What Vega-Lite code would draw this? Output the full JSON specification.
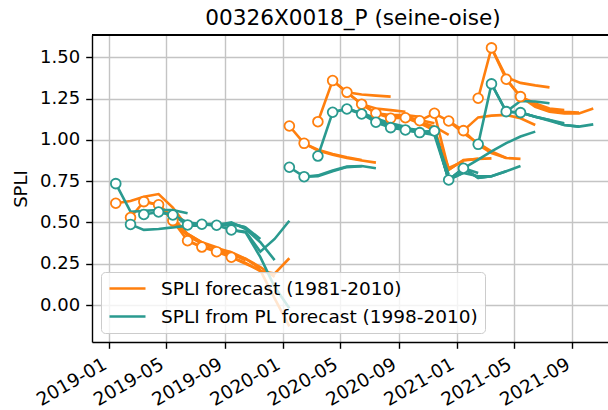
{
"$schema":"https://vega.github.io/schema/vega-lite/v6.json",
"autosize":{"type":"none"},
"padding":{"left":92,"top":35,"right":0,"bottom":68},
"width":516,"height":307,
"title":{"text":"00326X0018_P (seine-oise)","fontSize":21.6,"font":"DejaVu Sans","fontWeight":"normal","color":"#000","offset":5,"dx":3},
"data":{"values":[
{"s":"A","r":"2019-01-15","d":"2019-01-15","v":0.616},{"s":"A","r":"2019-01-15","d":"2019-02-15","v":0.63},{"s":"A","r":"2019-01-15","d":"2019-03-15","v":0.655},{"s":"A","r":"2019-01-15","d":"2019-04-15","v":0.672},{"s":"A","r":"2019-01-15","d":"2019-05-15","v":0.59},{"s":"A","r":"2019-01-15","d":"2019-06-15","v":0.47},
{"s":"A","r":"2019-02-15","d":"2019-02-15","v":0.53},{"s":"A","r":"2019-02-15","d":"2019-03-15","v":0.626},{"s":"A","r":"2019-02-15","d":"2019-04-15","v":0.607},{"s":"A","r":"2019-02-15","d":"2019-05-15","v":0.53},{"s":"A","r":"2019-02-15","d":"2019-06-15","v":0.43},{"s":"A","r":"2019-02-15","d":"2019-07-15","v":0.38},
{"s":"A","r":"2019-03-15","d":"2019-03-15","v":0.626},{"s":"A","r":"2019-03-15","d":"2019-04-15","v":0.607},{"s":"A","r":"2019-03-15","d":"2019-05-15","v":0.511},{"s":"A","r":"2019-03-15","d":"2019-06-15","v":0.43},{"s":"A","r":"2019-03-15","d":"2019-07-15","v":0.38},{"s":"A","r":"2019-03-15","d":"2019-08-15","v":0.35},
{"s":"A","r":"2019-04-15","d":"2019-04-15","v":0.607},{"s":"A","r":"2019-04-15","d":"2019-05-15","v":0.511},{"s":"A","r":"2019-04-15","d":"2019-06-15","v":0.42},{"s":"A","r":"2019-04-15","d":"2019-07-15","v":0.37},{"s":"A","r":"2019-04-15","d":"2019-08-15","v":0.345},{"s":"A","r":"2019-04-15","d":"2019-09-15","v":0.32},
{"s":"A","r":"2019-05-15","d":"2019-05-15","v":0.511},{"s":"A","r":"2019-05-15","d":"2019-06-15","v":0.389},{"s":"A","r":"2019-05-15","d":"2019-07-15","v":0.351},{"s":"A","r":"2019-05-15","d":"2019-08-15","v":0.33},{"s":"A","r":"2019-05-15","d":"2019-09-15","v":0.31},{"s":"A","r":"2019-05-15","d":"2019-10-15","v":0.27},
{"s":"A","r":"2019-06-15","d":"2019-06-15","v":0.389},{"s":"A","r":"2019-06-15","d":"2019-07-15","v":0.351},{"s":"A","r":"2019-06-15","d":"2019-08-15","v":0.335},{"s":"A","r":"2019-06-15","d":"2019-09-15","v":0.32},{"s":"A","r":"2019-06-15","d":"2019-10-15","v":0.28},{"s":"A","r":"2019-06-15","d":"2019-11-15","v":0.22},
{"s":"A","r":"2019-07-15","d":"2019-07-15","v":0.351},{"s":"A","r":"2019-07-15","d":"2019-08-15","v":0.323},{"s":"A","r":"2019-07-15","d":"2019-09-15","v":0.31},{"s":"A","r":"2019-07-15","d":"2019-10-15","v":0.28},{"s":"A","r":"2019-07-15","d":"2019-11-15","v":0.23},{"s":"A","r":"2019-07-15","d":"2019-12-15","v":0.17},
{"s":"A","r":"2019-08-15","d":"2019-08-15","v":0.323},{"s":"A","r":"2019-08-15","d":"2019-09-15","v":0.289},{"s":"A","r":"2019-08-15","d":"2019-10-15","v":0.25},{"s":"A","r":"2019-08-15","d":"2019-11-15","v":0.21},{"s":"A","r":"2019-08-15","d":"2019-12-15","v":0.04},{"s":"A","r":"2019-08-15","d":"2020-01-15","v":-0.13},
{"s":"A","r":"2019-09-15","d":"2019-09-15","v":0.289},{"s":"A","r":"2019-09-15","d":"2019-10-15","v":0.255},{"s":"A","r":"2019-09-15","d":"2019-11-15","v":0.205},{"s":"A","r":"2019-09-15","d":"2019-12-15","v":0.19},{"s":"A","r":"2019-09-15","d":"2020-01-15","v":0.283},
{"s":"A","r":"2020-01-15","d":"2020-01-15","v":1.084},{"s":"A","r":"2020-01-15","d":"2020-02-15","v":0.979},{"s":"A","r":"2020-01-15","d":"2020-03-15","v":0.94},{"s":"A","r":"2020-01-15","d":"2020-04-15","v":0.915},{"s":"A","r":"2020-01-15","d":"2020-05-15","v":0.895},{"s":"A","r":"2020-01-15","d":"2020-06-15","v":0.878},
{"s":"A","r":"2020-02-15","d":"2020-02-15","v":0.979},{"s":"A","r":"2020-02-15","d":"2020-03-15","v":0.935},{"s":"A","r":"2020-02-15","d":"2020-04-15","v":0.91},{"s":"A","r":"2020-02-15","d":"2020-05-15","v":0.89},{"s":"A","r":"2020-02-15","d":"2020-06-15","v":0.875},{"s":"A","r":"2020-02-15","d":"2020-07-15","v":0.862},
{"s":"A","r":"2020-03-15","d":"2020-03-15","v":1.11},{"s":"A","r":"2020-03-15","d":"2020-04-15","v":1.359},{"s":"A","r":"2020-03-15","d":"2020-05-15","v":1.288},{"s":"A","r":"2020-03-15","d":"2020-06-15","v":1.275},{"s":"A","r":"2020-03-15","d":"2020-07-15","v":1.268},{"s":"A","r":"2020-03-15","d":"2020-08-15","v":1.262},
{"s":"A","r":"2020-04-15","d":"2020-04-15","v":1.359},{"s":"A","r":"2020-04-15","d":"2020-05-15","v":1.288},{"s":"A","r":"2020-04-15","d":"2020-06-15","v":1.216},{"s":"A","r":"2020-04-15","d":"2020-07-15","v":1.19},{"s":"A","r":"2020-04-15","d":"2020-08-15","v":1.18},{"s":"A","r":"2020-04-15","d":"2020-09-15","v":1.17},
{"s":"A","r":"2020-05-15","d":"2020-05-15","v":1.288},{"s":"A","r":"2020-05-15","d":"2020-06-15","v":1.216},{"s":"A","r":"2020-05-15","d":"2020-07-15","v":1.161},{"s":"A","r":"2020-05-15","d":"2020-08-15","v":1.15},{"s":"A","r":"2020-05-15","d":"2020-09-15","v":1.15},{"s":"A","r":"2020-05-15","d":"2020-10-15","v":1.14},
{"s":"A","r":"2020-06-15","d":"2020-06-15","v":1.216},{"s":"A","r":"2020-06-15","d":"2020-07-15","v":1.161},{"s":"A","r":"2020-06-15","d":"2020-08-15","v":1.14},{"s":"A","r":"2020-06-15","d":"2020-09-15","v":1.14},{"s":"A","r":"2020-06-15","d":"2020-10-15","v":1.12},{"s":"A","r":"2020-06-15","d":"2020-11-15","v":1.1},
{"s":"A","r":"2020-07-15","d":"2020-07-15","v":1.161},{"s":"A","r":"2020-07-15","d":"2020-08-15","v":1.131},{"s":"A","r":"2020-07-15","d":"2020-09-15","v":1.14},{"s":"A","r":"2020-07-15","d":"2020-10-15","v":1.11},{"s":"A","r":"2020-07-15","d":"2020-11-15","v":1.08},{"s":"A","r":"2020-07-15","d":"2020-12-15","v":1.03},
{"s":"A","r":"2020-08-15","d":"2020-08-15","v":1.131},{"s":"A","r":"2020-08-15","d":"2020-09-15","v":1.134},{"s":"A","r":"2020-08-15","d":"2020-10-15","v":1.1},{"s":"A","r":"2020-08-15","d":"2020-11-15","v":1.06},{"s":"A","r":"2020-08-15","d":"2020-12-15","v":0.83},{"s":"A","r":"2020-08-15","d":"2021-01-15","v":0.87},
{"s":"A","r":"2020-09-15","d":"2020-09-15","v":1.134},{"s":"A","r":"2020-09-15","d":"2020-10-15","v":1.116},{"s":"A","r":"2020-09-15","d":"2020-11-15","v":1.05},{"s":"A","r":"2020-09-15","d":"2020-12-15","v":0.82},{"s":"A","r":"2020-09-15","d":"2021-01-15","v":0.875},{"s":"A","r":"2020-09-15","d":"2021-02-15","v":0.885},
{"s":"A","r":"2020-10-15","d":"2020-10-15","v":1.116},{"s":"A","r":"2020-10-15","d":"2020-11-15","v":1.161},{"s":"A","r":"2020-10-15","d":"2020-12-15","v":0.818},{"s":"A","r":"2020-10-15","d":"2021-01-15","v":0.878},{"s":"A","r":"2020-10-15","d":"2021-02-15","v":0.885},{"s":"A","r":"2020-10-15","d":"2021-03-15","v":0.888},
{"s":"A","r":"2020-11-15","d":"2020-11-15","v":1.161},{"s":"A","r":"2020-11-15","d":"2020-12-15","v":1.114},{"s":"A","r":"2020-11-15","d":"2021-01-15","v":1.04},{"s":"A","r":"2020-11-15","d":"2021-02-15","v":0.98},{"s":"A","r":"2020-11-15","d":"2021-03-15","v":0.93},{"s":"A","r":"2020-11-15","d":"2021-04-15","v":0.89},
{"s":"A","r":"2020-12-15","d":"2020-12-15","v":1.114},{"s":"A","r":"2020-12-15","d":"2021-01-15","v":1.056},{"s":"A","r":"2020-12-15","d":"2021-02-15","v":0.97},{"s":"A","r":"2020-12-15","d":"2021-03-15","v":0.92},{"s":"A","r":"2020-12-15","d":"2021-04-15","v":0.89},{"s":"A","r":"2020-12-15","d":"2021-05-15","v":0.885},
{"s":"A","r":"2021-01-15","d":"2021-01-15","v":1.056},{"s":"A","r":"2021-01-15","d":"2021-02-15","v":1.136},{"s":"A","r":"2021-01-15","d":"2021-03-15","v":1.147},{"s":"A","r":"2021-01-15","d":"2021-04-15","v":1.151},{"s":"A","r":"2021-01-15","d":"2021-05-15","v":1.131},{"s":"A","r":"2021-01-15","d":"2021-06-15","v":1.09},
{"s":"A","r":"2021-02-15","d":"2021-02-15","v":1.252},{"s":"A","r":"2021-02-15","d":"2021-03-15","v":1.557},{"s":"A","r":"2021-02-15","d":"2021-04-15","v":1.38},{"s":"A","r":"2021-02-15","d":"2021-05-15","v":1.345},{"s":"A","r":"2021-02-15","d":"2021-06-15","v":1.33},{"s":"A","r":"2021-02-15","d":"2021-07-15","v":1.318},
{"s":"A","r":"2021-03-15","d":"2021-03-15","v":1.557},{"s":"A","r":"2021-03-15","d":"2021-04-15","v":1.367},{"s":"A","r":"2021-03-15","d":"2021-05-15","v":1.262},{"s":"A","r":"2021-03-15","d":"2021-06-15","v":1.22},{"s":"A","r":"2021-03-15","d":"2021-07-15","v":1.19},{"s":"A","r":"2021-03-15","d":"2021-08-15","v":1.18},
{"s":"A","r":"2021-04-15","d":"2021-04-15","v":1.367},{"s":"A","r":"2021-04-15","d":"2021-05-15","v":1.262},{"s":"A","r":"2021-04-15","d":"2021-06-15","v":1.21},{"s":"A","r":"2021-04-15","d":"2021-07-15","v":1.18},{"s":"A","r":"2021-04-15","d":"2021-08-15","v":1.17},{"s":"A","r":"2021-04-15","d":"2021-09-15","v":1.165},
{"s":"A","r":"2021-05-15","d":"2021-05-15","v":1.262},{"s":"A","r":"2021-05-15","d":"2021-06-15","v":1.2},{"s":"A","r":"2021-05-15","d":"2021-07-15","v":1.17},{"s":"A","r":"2021-05-15","d":"2021-08-15","v":1.16},{"s":"A","r":"2021-05-15","d":"2021-09-15","v":1.16},{"s":"A","r":"2021-05-15","d":"2021-10-15","v":1.19},
{"s":"B","r":"2019-01-15","d":"2019-01-15","v":0.735},{"s":"B","r":"2019-01-15","d":"2019-02-15","v":0.565},{"s":"B","r":"2019-01-15","d":"2019-03-15","v":0.57},{"s":"B","r":"2019-01-15","d":"2019-04-15","v":0.575},{"s":"B","r":"2019-01-15","d":"2019-05-15","v":0.575},{"s":"B","r":"2019-01-15","d":"2019-06-15","v":0.555},
{"s":"B","r":"2019-02-15","d":"2019-02-15","v":0.488},{"s":"B","r":"2019-02-15","d":"2019-03-15","v":0.455},{"s":"B","r":"2019-02-15","d":"2019-04-15","v":0.46},{"s":"B","r":"2019-02-15","d":"2019-05-15","v":0.47},{"s":"B","r":"2019-02-15","d":"2019-06-15","v":0.48},{"s":"B","r":"2019-02-15","d":"2019-07-15","v":0.48},
{"s":"B","r":"2019-03-15","d":"2019-03-15","v":0.548},{"s":"B","r":"2019-03-15","d":"2019-04-15","v":0.563},{"s":"B","r":"2019-03-15","d":"2019-05-15","v":0.545},{"s":"B","r":"2019-03-15","d":"2019-06-15","v":0.5},{"s":"B","r":"2019-03-15","d":"2019-07-15","v":0.49},{"s":"B","r":"2019-03-15","d":"2019-08-15","v":0.48},
{"s":"B","r":"2019-04-15","d":"2019-04-15","v":0.563},{"s":"B","r":"2019-04-15","d":"2019-05-15","v":0.545},{"s":"B","r":"2019-04-15","d":"2019-06-15","v":0.49},{"s":"B","r":"2019-04-15","d":"2019-07-15","v":0.49},{"s":"B","r":"2019-04-15","d":"2019-08-15","v":0.485},{"s":"B","r":"2019-04-15","d":"2019-09-15","v":0.48},
{"s":"B","r":"2019-05-15","d":"2019-05-15","v":0.545},{"s":"B","r":"2019-05-15","d":"2019-06-15","v":0.485},{"s":"B","r":"2019-05-15","d":"2019-07-15","v":0.489},{"s":"B","r":"2019-05-15","d":"2019-08-15","v":0.49},{"s":"B","r":"2019-05-15","d":"2019-09-15","v":0.49},{"s":"B","r":"2019-05-15","d":"2019-10-15","v":0.47},
{"s":"B","r":"2019-06-15","d":"2019-06-15","v":0.485},{"s":"B","r":"2019-06-15","d":"2019-07-15","v":0.489},{"s":"B","r":"2019-06-15","d":"2019-08-15","v":0.483},{"s":"B","r":"2019-06-15","d":"2019-09-15","v":0.495},{"s":"B","r":"2019-06-15","d":"2019-10-15","v":0.47},{"s":"B","r":"2019-06-15","d":"2019-11-15","v":0.4},
{"s":"B","r":"2019-07-15","d":"2019-07-15","v":0.489},{"s":"B","r":"2019-07-15","d":"2019-08-15","v":0.483},{"s":"B","r":"2019-07-15","d":"2019-09-15","v":0.5},{"s":"B","r":"2019-07-15","d":"2019-10-15","v":0.46},{"s":"B","r":"2019-07-15","d":"2019-11-15","v":0.38},{"s":"B","r":"2019-07-15","d":"2019-12-15","v":0.272},
{"s":"B","r":"2019-08-15","d":"2019-08-15","v":0.483},{"s":"B","r":"2019-08-15","d":"2019-09-15","v":0.454},{"s":"B","r":"2019-08-15","d":"2019-10-15","v":0.444},{"s":"B","r":"2019-08-15","d":"2019-11-15","v":0.323},{"s":"B","r":"2019-08-15","d":"2019-12-15","v":0.4},{"s":"B","r":"2019-08-15","d":"2020-01-15","v":0.51},
{"s":"B","r":"2019-09-15","d":"2019-09-15","v":0.454},{"s":"B","r":"2019-09-15","d":"2019-10-15","v":0.44},{"s":"B","r":"2019-09-15","d":"2019-11-15","v":0.29},{"s":"B","r":"2019-09-15","d":"2019-12-15","v":0.11},{"s":"B","r":"2019-09-15","d":"2020-01-15","v":-0.02},
{"s":"B","r":"2020-01-15","d":"2020-01-15","v":0.834},{"s":"B","r":"2020-01-15","d":"2020-02-15","v":0.777},{"s":"B","r":"2020-01-15","d":"2020-03-15","v":0.78},{"s":"B","r":"2020-01-15","d":"2020-04-15","v":0.81},{"s":"B","r":"2020-01-15","d":"2020-05-15","v":0.835},{"s":"B","r":"2020-01-15","d":"2020-06-15","v":0.84},
{"s":"B","r":"2020-02-15","d":"2020-02-15","v":0.777},{"s":"B","r":"2020-02-15","d":"2020-03-15","v":0.785},{"s":"B","r":"2020-02-15","d":"2020-04-15","v":0.815},{"s":"B","r":"2020-02-15","d":"2020-05-15","v":0.838},{"s":"B","r":"2020-02-15","d":"2020-06-15","v":0.842},{"s":"B","r":"2020-02-15","d":"2020-07-15","v":0.828},
{"s":"B","r":"2020-03-15","d":"2020-03-15","v":0.902},{"s":"B","r":"2020-03-15","d":"2020-04-15","v":1.167},{"s":"B","r":"2020-03-15","d":"2020-05-15","v":1.19},{"s":"B","r":"2020-03-15","d":"2020-06-15","v":1.16},{"s":"B","r":"2020-03-15","d":"2020-07-15","v":1.12},{"s":"B","r":"2020-03-15","d":"2020-08-15","v":1.09},
{"s":"B","r":"2020-04-15","d":"2020-04-15","v":1.167},{"s":"B","r":"2020-04-15","d":"2020-05-15","v":1.187},{"s":"B","r":"2020-04-15","d":"2020-06-15","v":1.165},{"s":"B","r":"2020-04-15","d":"2020-07-15","v":1.13},{"s":"B","r":"2020-04-15","d":"2020-08-15","v":1.1},{"s":"B","r":"2020-04-15","d":"2020-09-15","v":1.08},
{"s":"B","r":"2020-05-15","d":"2020-05-15","v":1.187},{"s":"B","r":"2020-05-15","d":"2020-06-15","v":1.157},{"s":"B","r":"2020-05-15","d":"2020-07-15","v":1.12},{"s":"B","r":"2020-05-15","d":"2020-08-15","v":1.09},{"s":"B","r":"2020-05-15","d":"2020-09-15","v":1.07},{"s":"B","r":"2020-05-15","d":"2020-10-15","v":1.06},
{"s":"B","r":"2020-06-15","d":"2020-06-15","v":1.157},{"s":"B","r":"2020-06-15","d":"2020-07-15","v":1.107},{"s":"B","r":"2020-06-15","d":"2020-08-15","v":1.08},{"s":"B","r":"2020-06-15","d":"2020-09-15","v":1.065},{"s":"B","r":"2020-06-15","d":"2020-10-15","v":1.05},{"s":"B","r":"2020-06-15","d":"2020-11-15","v":1.05},
{"s":"B","r":"2020-07-15","d":"2020-07-15","v":1.107},{"s":"B","r":"2020-07-15","d":"2020-08-15","v":1.074},{"s":"B","r":"2020-07-15","d":"2020-09-15","v":1.065},{"s":"B","r":"2020-07-15","d":"2020-10-15","v":1.05},{"s":"B","r":"2020-07-15","d":"2020-11-15","v":1.04},{"s":"B","r":"2020-07-15","d":"2020-12-15","v":0.79},
{"s":"B","r":"2020-08-15","d":"2020-08-15","v":1.074},{"s":"B","r":"2020-08-15","d":"2020-09-15","v":1.06},{"s":"B","r":"2020-08-15","d":"2020-10-15","v":1.045},{"s":"B","r":"2020-08-15","d":"2020-11-15","v":1.03},{"s":"B","r":"2020-08-15","d":"2020-12-15","v":0.76},{"s":"B","r":"2020-08-15","d":"2021-01-15","v":0.8},
{"s":"B","r":"2020-09-15","d":"2020-09-15","v":1.06},{"s":"B","r":"2020-09-15","d":"2020-10-15","v":1.044},{"s":"B","r":"2020-09-15","d":"2020-11-15","v":1.054},{"s":"B","r":"2020-09-15","d":"2020-12-15","v":0.757},{"s":"B","r":"2020-09-15","d":"2021-01-15","v":0.828},{"s":"B","r":"2020-09-15","d":"2021-02-15","v":0.8},
{"s":"B","r":"2020-10-15","d":"2020-10-15","v":1.044},{"s":"B","r":"2020-10-15","d":"2020-11-15","v":1.054},{"s":"B","r":"2020-10-15","d":"2020-12-15","v":0.757},{"s":"B","r":"2020-10-15","d":"2021-01-15","v":0.8},{"s":"B","r":"2020-10-15","d":"2021-02-15","v":0.78},{"s":"B","r":"2020-10-15","d":"2021-03-15","v":0.78},
{"s":"B","r":"2020-11-15","d":"2020-11-15","v":1.054},{"s":"B","r":"2020-11-15","d":"2020-12-15","v":0.757},{"s":"B","r":"2020-11-15","d":"2021-01-15","v":0.828},{"s":"B","r":"2020-11-15","d":"2021-02-15","v":0.77},{"s":"B","r":"2020-11-15","d":"2021-03-15","v":0.78},{"s":"B","r":"2020-11-15","d":"2021-04-15","v":0.81},
{"s":"B","r":"2020-12-15","d":"2020-12-15","v":0.757},{"s":"B","r":"2020-12-15","d":"2021-01-15","v":0.828},{"s":"B","r":"2020-12-15","d":"2021-02-15","v":0.77},{"s":"B","r":"2020-12-15","d":"2021-03-15","v":0.78},{"s":"B","r":"2020-12-15","d":"2021-04-15","v":0.81},{"s":"B","r":"2020-12-15","d":"2021-05-15","v":0.842},
{"s":"B","r":"2021-01-15","d":"2021-01-15","v":0.828},{"s":"B","r":"2021-01-15","d":"2021-02-15","v":0.88},{"s":"B","r":"2021-01-15","d":"2021-03-15","v":0.93},{"s":"B","r":"2021-01-15","d":"2021-04-15","v":0.98},{"s":"B","r":"2021-01-15","d":"2021-05-15","v":1.02},{"s":"B","r":"2021-01-15","d":"2021-06-15","v":1.05},
{"s":"B","r":"2021-02-15","d":"2021-02-15","v":0.973},{"s":"B","r":"2021-02-15","d":"2021-03-15","v":1.339},{"s":"B","r":"2021-02-15","d":"2021-04-15","v":1.171},{"s":"B","r":"2021-02-15","d":"2021-05-15","v":1.235},{"s":"B","r":"2021-02-15","d":"2021-06-15","v":1.232},{"s":"B","r":"2021-02-15","d":"2021-07-15","v":1.222},
{"s":"B","r":"2021-03-15","d":"2021-03-15","v":1.339},{"s":"B","r":"2021-03-15","d":"2021-04-15","v":1.171},{"s":"B","r":"2021-03-15","d":"2021-05-15","v":1.165},{"s":"B","r":"2021-03-15","d":"2021-06-15","v":1.14},{"s":"B","r":"2021-03-15","d":"2021-07-15","v":1.12},{"s":"B","r":"2021-03-15","d":"2021-08-15","v":1.1},
{"s":"B","r":"2021-04-15","d":"2021-04-15","v":1.171},{"s":"B","r":"2021-04-15","d":"2021-05-15","v":1.165},{"s":"B","r":"2021-04-15","d":"2021-06-15","v":1.14},{"s":"B","r":"2021-04-15","d":"2021-07-15","v":1.12},{"s":"B","r":"2021-04-15","d":"2021-08-15","v":1.09},{"s":"B","r":"2021-04-15","d":"2021-09-15","v":1.08},
{"s":"B","r":"2021-05-15","d":"2021-05-15","v":1.165},{"s":"B","r":"2021-05-15","d":"2021-06-15","v":1.14},{"s":"B","r":"2021-05-15","d":"2021-07-15","v":1.115},{"s":"B","r":"2021-05-15","d":"2021-08-15","v":1.09},{"s":"B","r":"2021-05-15","d":"2021-09-15","v":1.08},{"s":"B","r":"2021-05-15","d":"2021-10-15","v":1.094}
]},
"layer":[
{"mark":{"type":"line","strokeWidth":2.6,"clip":true},
"encoding":{
"x":{"field":"d","type":"temporal","scale":{"type":"utc","domain":[{"year":2018,"month":11,"date":26,"utc":true},{"year":2021,"month":11,"date":15,"utc":true}],"nice":false},
"axis":{"title":null,"values":[{"year":2019,"month":1,"date":1,"utc":true},{"year":2019,"month":5,"date":1,"utc":true},{"year":2019,"month":9,"date":1,"utc":true},{"year":2020,"month":1,"date":1,"utc":true},{"year":2020,"month":5,"date":1,"utc":true},{"year":2020,"month":9,"date":1,"utc":true},{"year":2021,"month":1,"date":1,"utc":true},{"year":2021,"month":5,"date":1,"utc":true},{"year":2021,"month":9,"date":1,"utc":true}],
"labelExpr":"utcFormat(datum.value, '%Y-%m')","labelAngle":-30,"labelAlign":"right","labelBaseline":"top","labelPadding":6,"labelOffset":-9,"labelFontSize":18.5,"labelFlush":false,"labelOverlap":false,"labelBound":false}},
"y":{"field":"v","type":"quantitative","scale":{"domain":[-0.224,1.635],"nice":false,"zero":false},
"axis":{"title":"SPLI","values":[0,0.25,0.5,0.75,1,1.25,1.5],"format":".2f","titlePadding":9,"labelPadding":6}},
"color":{"field":"s","type":"nominal","scale":{"domain":["A","B"],"range":["#ff7f0e","#2a9a8f"]},
"legend":{"title":null,"orient":"bottom-left","offset":9,"labelLimit":0,"labelExpr":"datum.label === 'A' ? 'SPLI forecast (1981-2010)' : 'SPLI from PL forecast (1998-2010)'"}},
"detail":{"field":"r"}}},
{"transform":[{"filter":"utcFormat(datum.d, '%Y-%m-%d') === datum.r"}],
"mark":{"type":"circle","fill":"white","fillOpacity":1,"opacity":1,"size":95,"strokeWidth":1.8},
"encoding":{
"x":{"field":"d","type":"temporal"},
"y":{"field":"v","type":"quantitative"},
"stroke":{"field":"s","type":"nominal","scale":{"domain":["A","B"],"range":["#ff7f0e","#2a9a8f"]},"legend":null}}},
{"mark":{"type":"rule","color":"#000","strokeWidth":1.4},"encoding":{"y":{"datum":1.635,"type":"quantitative"}}}
],
"config":{
"font":"DejaVu Sans",
"view":{"stroke":null},
"axis":{"labelFont":"DejaVu Sans","labelFontSize":18,"labelColor":"#000","titleFont":"DejaVu Sans","titleFontSize":18,"titleFontWeight":"normal","titleColor":"#000","domainColor":"#000","domainWidth":1.4,"tickColor":"#000","tickWidth":1.4,"tickSize":6.3,"gridColor":"#c4c4c4","gridWidth":1.4,"grid":true},
"legend":{"padding":7,"fillColor":"rgba(255,255,255,0.8)","strokeColor":"#cccccc","cornerRadius":4,"symbolType":"stroke","symbolSize":1296,"symbolStrokeWidth":2.6,"labelFontSize":18.5,"labelFont":"DejaVu Sans","labelColor":"#000","rowPadding":9,"clipHeight":19,"labelOffset":14}
}
}
